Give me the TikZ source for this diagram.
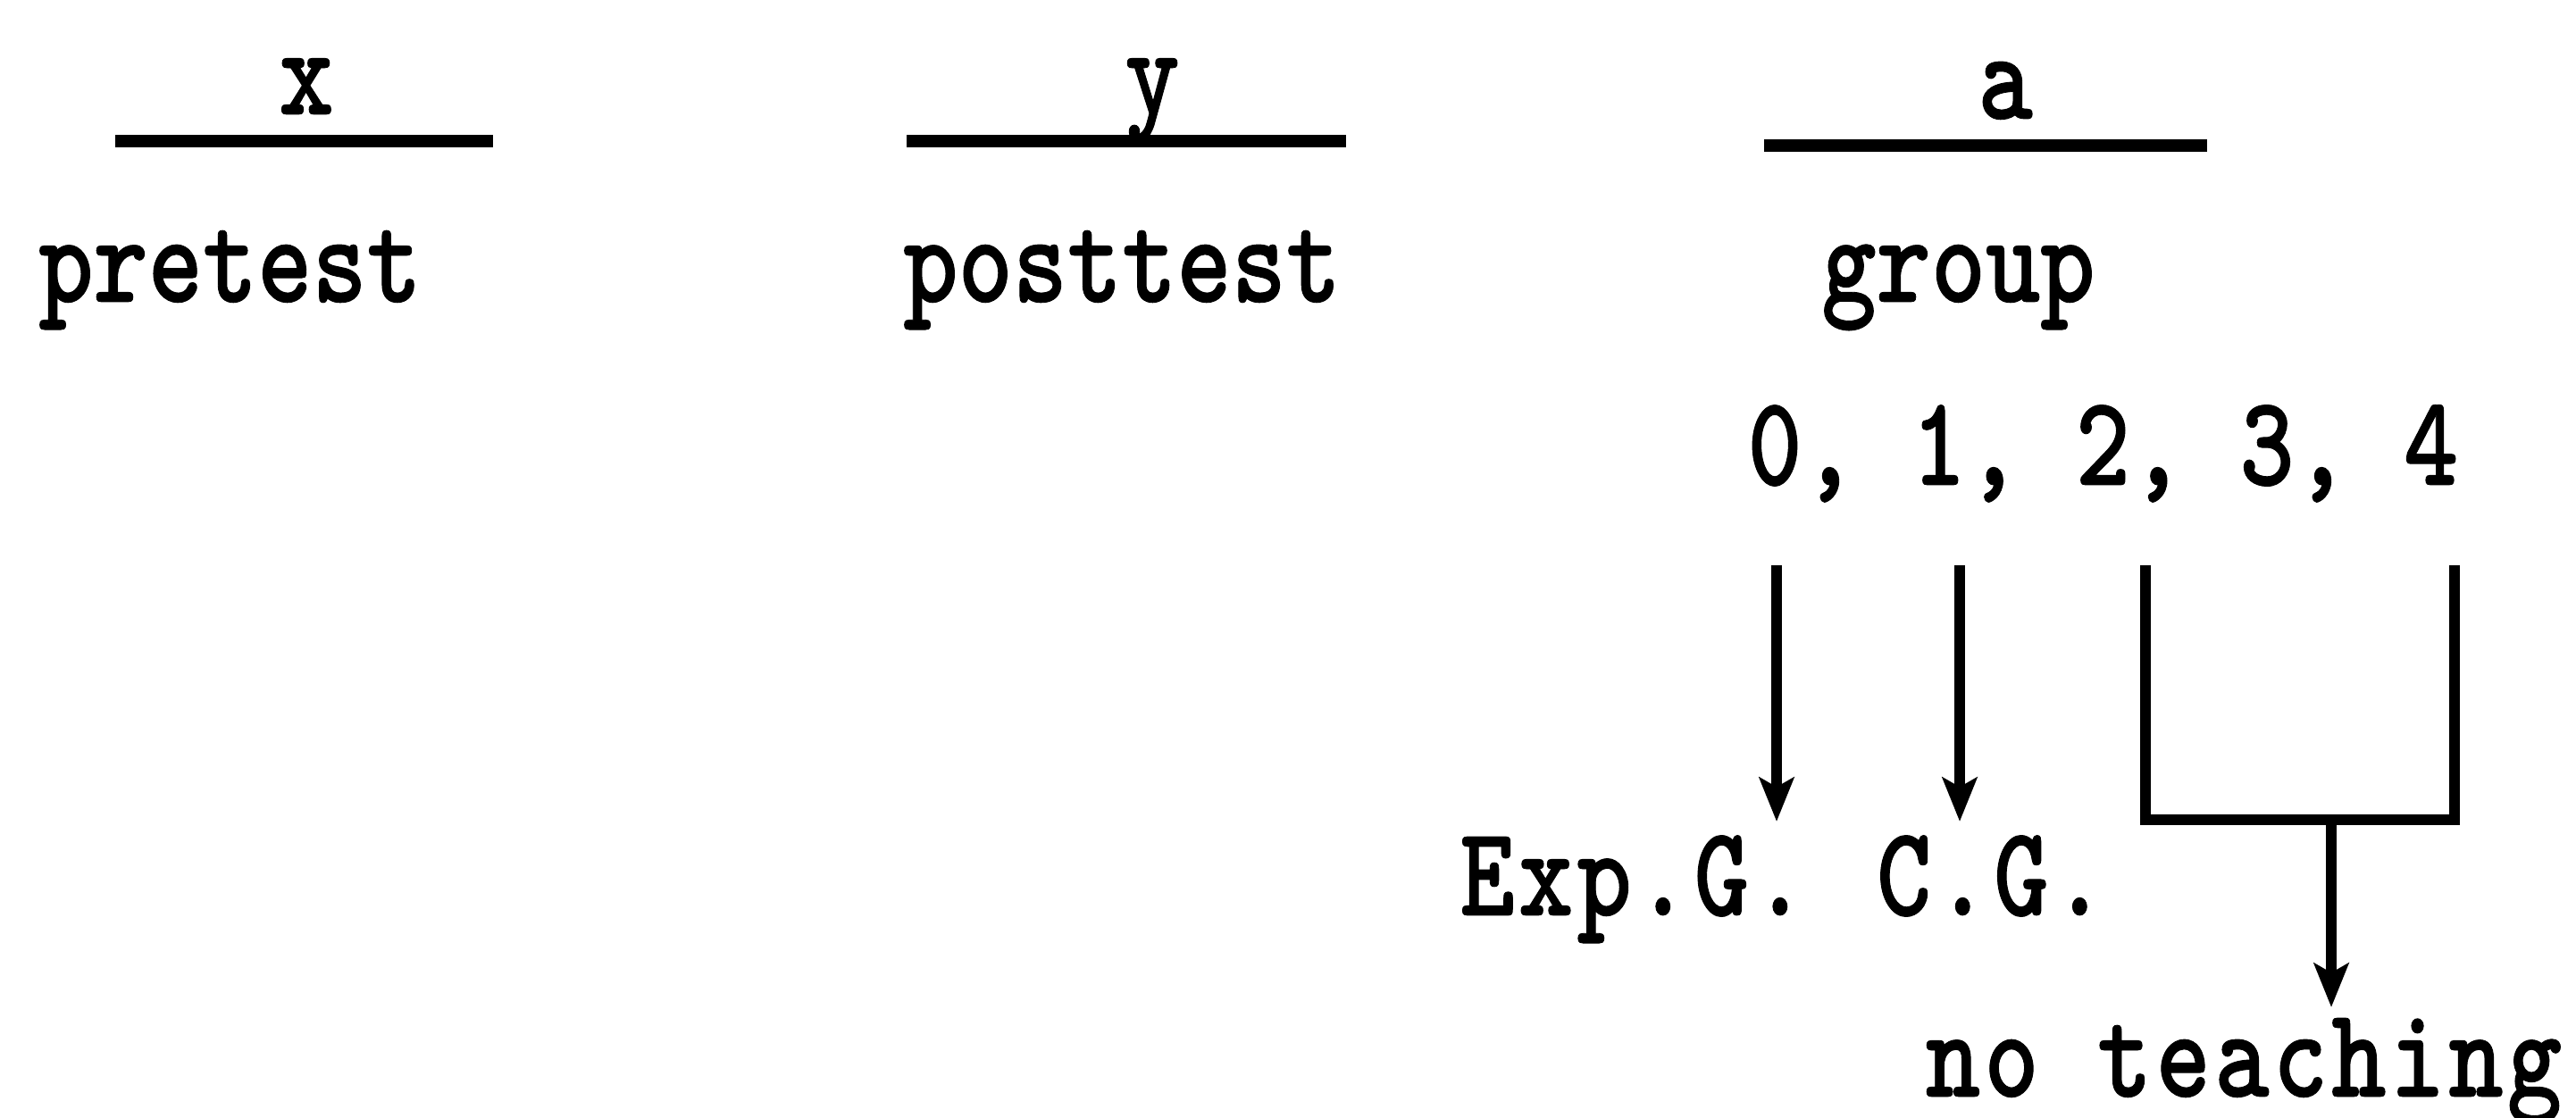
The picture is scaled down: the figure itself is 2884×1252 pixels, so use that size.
\documentclass[tikz,border=0pt]{standalone}
\usepackage{fontspec}
\newfontfamily\typefont[FakeStretch=0.81,FakeBold=0.6]{lmmonolt10-bold.otf}
\usetikzlibrary{arrows.meta}

\begin{document}
\begin{tikzpicture}
[x=0.005cm,y=-0.005cm,
  ruleDecorate/.style={line width=2pt},
  lineDecorate/.style={line width=1.8pt},
  arrowDecorate/.style={-{Stealth[length=7pt,width=5.5pt,inset=1.5pt]},line width=1.8pt},
  textDecorate/.style={inner sep=0pt,font=\fontsize{20.5}{24}\typefont},
  groupDecorate/.style={textDecorate,font=\fontsize{20.5}{24}\typefont\addfontfeature{LetterSpace=3}}]
\useasboundingbox (0,0) rectangle (2884,1252);
%% variable names over the rules
\foreach \nodename/\x/\y/\a/\b in {x/343/128/129/552, y/1290/128/1015/1507, a/2245/133/1975/2471}
{
  \node (\nodename) at (\x,\y) [textDecorate,anchor=base] {\nodename};
  \draw[ruleDecorate] (\a,\y+30) -- (\b,\y+30);
}
%% what the variables stand for
\foreach \nodename/\txt/\x in {pre/pretest/42, post/posttest/1010, grp/group/2038}
{
  \node (\nodename) at (\x,338) [textDecorate,anchor=base west] {\txt};
}
\node (codes) at (1955,543) [textDecorate,anchor=base west] {0, 1, 2, 3, 4};
%% groups
\node (expg) at (1829,1025) [groupDecorate,anchor=base] {Exp.G.};
\node (cg) at (2230,1025) [groupDecorate,anchor=base] {C.G.};
\node (noteach) at (2512,1228) [groupDecorate,anchor=base] {no teaching};
%% arrows and bracket
\coordinate (c0) at (1989,633);
\coordinate (c1) at (2194,633);
\coordinate (c2) at (2402,633);
\coordinate (c4) at (2748,633);
\coordinate (join) at (2610,918);
\draw[arrowDecorate] (c0) -- (c0 |- 0,920);
\draw[arrowDecorate] (c1) -- (c1 |- 0,920);
\draw[lineDecorate] (c2) -- (c2 |- join) -- (c4 |- join) -- (c4);
\draw[arrowDecorate] (join) -- (join |- 0,1128);
\end{tikzpicture}
\end{document}
